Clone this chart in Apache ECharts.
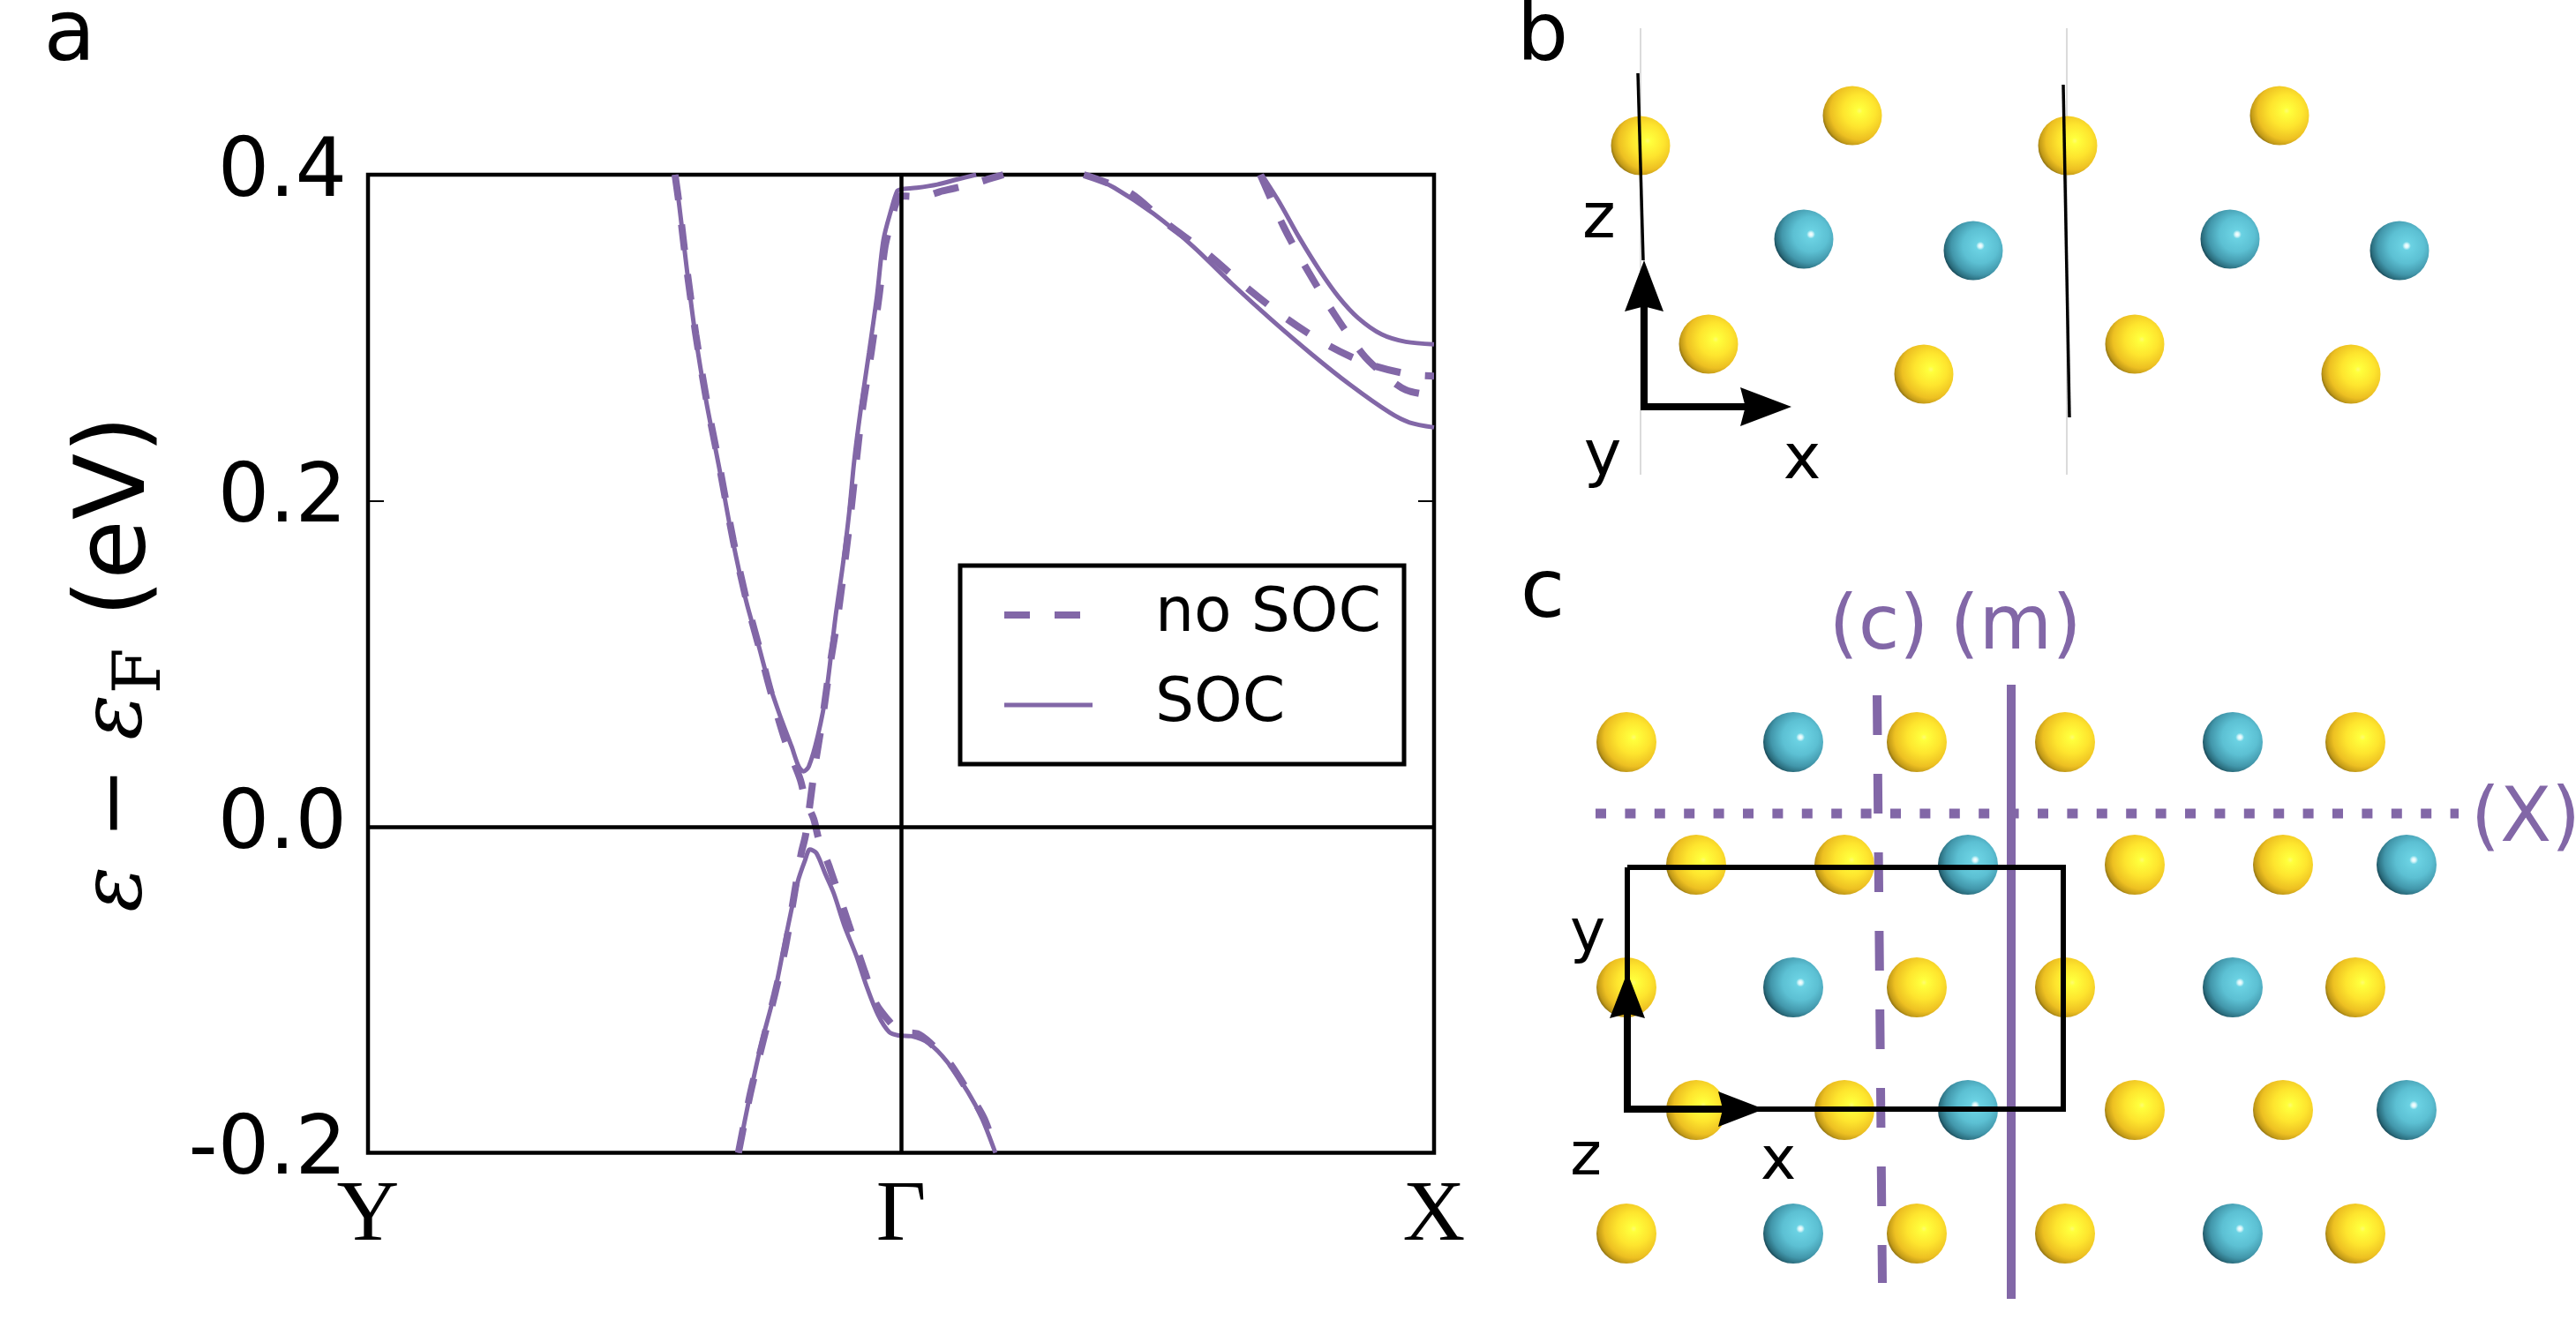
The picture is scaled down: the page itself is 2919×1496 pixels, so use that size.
<!DOCTYPE html>
<html>
<head>
<meta charset="utf-8">
<style>html,body{margin:0;padding:0;background:#fff}#c{width:2919px;height:1496px}</style>
<script src="https://cdn.jsdelivr.net/npm/echarts@6/dist/echarts.min.js"></script>
</head>
<body>
<div id="c"></div>
<script>
// ---- panel a: band data (k along Y-Gamma-X, energy in eV)
const xTickLabels = ['Y', 'Γ', 'X'];
const legendNames = ['no SOC', 'SOC'];

const socCondK = [.576,.584,.598,.614,.634,.659,.684,.709,.733,.750,.772,.795,.808,.817,.827,.844,.860,.877,.891,.903,.912,.924,.940,.955,.967,.982,.993,1.0,1.030,1.068,1.104,1.141];
const socCondE = [.400,.381,.3425,.302,.262,.220,.176,.139,.111,.0905,.069,.049,.037,.034,.037,.056,.083,.1285,.161,.1935,.224,.255,.291,.326,.360,.379,.390,.391,.392,.394,.397,.400];

const socValK = [.695,.717,.738,.762,.780,.788,.806,.820,.829,.841,.858,.874,.894,.916,.935,.957,.978,.995,1.020,1.053,1.086,1.126,1.152,1.177];
const socValE = [-.2,-.164,-.133,-.103,-.074,-.061,-.034,-.0205,-.014,-.016,-.029,-.041,-.061,-.079,-.0975,-.1155,-.126,-.128,-.1285,-.133,-.144,-.163,-.179,-.2];

const socLowK = [1.348,1.400,1.474,1.548,1.621,1.695,1.770,1.843,1.917,1.954,2.0];
const socLowE = [.400,.392,.376,.356,.333,.311,.290,.271,.254,.248,.245];

const socUpK = [1.677,1.710,1.747,1.785,1.821,1.858,1.902,1.947,2.0];
const socUpE = [.400,.383,.3615,.3415,.325,.312,.302,.2975,.296];

const noBandAK = [.576,.584,.598,.615,.635,.660,.685,.710,.733,.755,.783,.811,.821,.836,.846,.866,.902,.932,.954,.977,.990,1.0,1.031,1.056,1.089,1.127,1.156,1.179];
const noBandAE = [.400,.381,.3425,.302,.262,.220,.176,.139,.111,.0835,.0525,.029,.016,.005,-.008,-.025,-.060,-.089,-.109,-.119,-.1235,-.126,-.127,-.133,-.144,-.163,-.179,-.2];

const noBandBK = [.695,.717,.740,.763,.783,.800,.813,.821,.838,.853,.866,.881,.894,.906,.916,.927,.944,.959,.970,.982,.990,1.0,1.038,1.078,1.131,1.171,1.192];
const noBandBE = [-.2,-.164,-.133,-.103,-.074,-.041,-.016,-.005,.036,.067,.0975,.1285,.161,.1935,.224,.255,.291,.326,.356,.372,.382,.387,.3865,.390,.394,.398,.400];

const noLowK = [1.343,1.429,1.495,1.573,1.644,1.722,1.803,1.876,1.954,2.0];
const noLowE = [.400,.389,.371,.352,.332,.312,.295,.284,.2775,.2765];

const noUpK = [1.674,1.718,1.765,1.814,1.866,1.902,1.947,2.0];
const noUpE = [.400,.368,.340,.314,.290,.2785,.268,.2645];

// ---- panel b: atoms, in panel units
const bGold = [[159,165],[399,131],[643,165],[883,131],[236,390],[480,424],[719,390],[964,424]];
const bTeal = [[344,271],[536,284],[827,271],[1019,284]];
const bCellA = [[156,83],[162,295]];
const bCellB = [[638,96],[645,473]];
const bGuideA = [[159,32],[159,538]];
const bGuideB = [[642,32],[642,538]];
const bAxisZ = [[163,465],[163,345]];
const bAxisX = [[159,461],[282,461]];
const bHeads = [[163,324,0],[301,461,-90]];

// ---- panel c: atoms, in panel units
const cRowY = [221,360,499,638,778];
const cOddX = [143,332,472,640,830,969];
const cEvenX = [222,390,530,719,887,1027];
const cOddKinds = ['g','t','g','g','t','g'];
const cEvenKinds = ['g','g','t','g','g','t'];
const cCell = [[144,363],[638,363],[638,637],[144,637],[144,363]];
const cAxisY = [[144,641],[144,528]];
const cAxisX = [[140,637],[254,637]];
const cHeads = [[144,508,0],[273,637,-90]];
const cLineM = [[579,156],[579,852]];
const cLineC = [[427,168],[433,834]];
const cLineX = [[108,302],[1086,302]];

const purple = '#8267a7';
const arrowHead = 'path://M50 0L100 100L50 90L0 100Z';
const pairs = (k, e) => k.map((v, i) => [v, e[i]]);

const goldFill = {type:'radial',x:.62,y:.42,r:.66,colorStops:[
  {offset:0,color:'#fffb70'},{offset:.08,color:'#ffff3c'},{offset:.42,color:'#fee52e'},
  {offset:.74,color:'#edc022'},{offset:.9,color:'#c29a18'},{offset:1,color:'#7c6410'}]};
const tealFill = {type:'radial',x:.62,y:.42,r:.66,colorStops:[
  {offset:0,color:'#ffffff'},{offset:.05,color:'#d8f6fa'},{offset:.11,color:'#6bd2e3'},
  {offset:.45,color:'#5cc0d3'},{offset:.74,color:'#4297ab'},{offset:.9,color:'#2a6c7c'},{offset:1,color:'#123a48'}]};

function band(name, k, e, dashed, extra) {
  return Object.assign({
    name, type:'line', xAxisIndex:0, yAxisIndex:0, showSymbol:false, symbol:'none', smooth:.3, silent:true, z:3,
    lineStyle: dashed ? {color:purple,width:8,type:[29,28],cap:'butt'} : {color:purple,width:5},
    itemStyle:{color:purple},
    data:pairs(k,e)
  }, extra||{});
}
function decor(xi, yi, data, color, width, type, z) {
  return {type:'line', xAxisIndex:xi, yAxisIndex:yi, symbol:'none', showSymbol:false, silent:true, clip:false, z:z||6,
    lineStyle:{color,width,type:type||'solid',cap:'butt',join:'miter'}, data};
}
function atoms(xi, yi, data, fill, size) {
  return {type:'scatter', xAxisIndex:xi, yAxisIndex:yi, symbol:'circle', symbolSize:size, silent:true, z:4,
    itemStyle:{color:fill, opacity:1}, data};
}
function heads(xi, yi, data, w, h) {
  return {type:'scatter', xAxisIndex:xi, yAxisIndex:yi, silent:true, z:8, symbol:arrowHead, symbolSize:[w,h],
    symbolRotate:(v)=>v[2], itemStyle:{color:'#000',opacity:1}, data};
}

const cGold = [], cTeal = [];
cRowY.forEach((y, r) => {
  const xs = r % 2 ? cEvenX : cOddX, kinds = r % 2 ? cEvenKinds : cOddKinds;
  xs.forEach((x, i) => (kinds[i] === 'g' ? cGold : cTeal).push([x, y]));
});

const label = (text, x, y, size, fill) => ({type:'text', z:20, silent:true,
  style:{text, x, y, fontSize:size, fontFamily:'"DejaVu Sans"', fill:fill||'#000', align:'center', verticalAlign:'middle'}});

const hiddenX = (g, w) => ({type:'value', gridIndex:g, min:0, max:w, show:false});
const hiddenY = (g, h) => ({type:'value', gridIndex:g, min:0, max:h, inverse:true, show:false});

const chart = echarts.init(document.getElementById('c'), null, {renderer:'canvas'});
chart.setOption({
  animation:false,
  backgroundColor:'#fff',
  grid:[
    {left:417, top:198, width:1208, height:1108.5, show:true, borderColor:'#000', borderWidth:4.5, backgroundColor:'transparent'},
    {left:1700, top:0, width:1219, height:600},
    {left:1700, top:620, width:1219, height:876}
  ],
  xAxis:[
    {type:'value', gridIndex:0, min:0, max:2, interval:1,
      axisLine:{show:false}, axisTick:{show:false}, splitLine:{show:false},
      axisLabel:{margin:24, fontSize:98, fontFamily:'"Liberation Serif"', color:'#000', hideOverlap:false, showMinLabel:true, showMaxLabel:true,
        formatter:(v)=>xTickLabels[Math.round(v)]}},
    hiddenX(1,1219), hiddenX(2,1219)
  ],
  yAxis:[
    {type:'value', gridIndex:0, min:-0.2, max:0.4, interval:0.2,
      name:'{e|ε − ε}{f|F}{p| (eV)}', nameLocation:'middle', nameGap:218, nameRotate:90,
      nameTextStyle:{rich:{
        e:{fontSize:97, fontFamily:'"DejaVu Serif"', fontStyle:'italic', color:'#000', lineHeight:130},
        f:{fontSize:75, fontFamily:'"DejaVu Serif"', color:'#000', lineHeight:130, verticalAlign:'bottom'},
        p:{fontSize:110, fontFamily:'"DejaVu Sans"', color:'#000', lineHeight:130}}},
      axisLine:{show:false}, splitLine:{show:false},
      axisTick:{show:true, inside:true, length:18, lineStyle:{color:'#000',width:2}},
      axisLabel:{margin:24, fontSize:92, fontFamily:'"DejaVu Sans"', color:'#000', showMinLabel:true, showMaxLabel:true,
        formatter:(v)=>v.toFixed(1)}},
    {type:'value', gridIndex:0, position:'right', min:-0.2, max:0.4, interval:0.2,
      axisLine:{show:false}, splitLine:{show:false}, axisLabel:{show:false},
      axisTick:{show:true, inside:true, length:18, lineStyle:{color:'#000',width:2}}},
    hiddenY(1,600), hiddenY(2,876)
  ],
  legend:{
    data:[
      {name:legendNames[0], lineStyle:{width:8,type:[29,28],cap:'butt',color:purple}, itemStyle:{color:'transparent',borderWidth:0,opacity:0}},
      {name:legendNames[1], lineStyle:{width:5,color:purple}, itemStyle:{color:'transparent',borderWidth:0,opacity:0}}
    ],
    orient:'vertical', left:1088, top:641, z:10,
    itemWidth:100, itemHeight:30, itemGap:0, padding:[5,26,16,46],
    backgroundColor:'#fff', borderColor:'#000', borderWidth:5, borderRadius:0,
    selectedMode:false,
    textStyle:{fontSize:69.5, fontFamily:'"DejaVu Sans"', color:'#000', lineHeight:80, padding:[22,0,0,66]}
  },
  series:[
    band('no SOC', noBandAK, noBandAE, true, {markLine:{silent:true, symbol:'none', animation:false, z:7, label:{show:false},
      lineStyle:{color:'#000',width:4.5,type:'solid'}, data:[{xAxis:1},{yAxis:0}]}}),
    band('no SOC', noBandBK, noBandBE, true),
    band('no SOC', noLowK, noLowE, true),
    band('no SOC', noUpK, noUpE, true),
    band('SOC', socCondK, socCondE, false),
    band('SOC', socValK, socValE, false),
    band('SOC', socLowK, socLowE, false),
    band('SOC', socUpK, socUpE, false),

    decor(1,2,bGuideA,'#cfcfcf',1.5,null,2),
    decor(1,2,bGuideB,'#cfcfcf',1.5,null,2),
    atoms(1,2,bGold,goldFill,67),
    atoms(1,2,bTeal,tealFill,67),
    decor(1,2,bCellA,'#000',3.5),
    decor(1,2,bCellB,'#000',3.5),
    decor(1,2,bAxisZ,'#000',8),
    decor(1,2,bAxisX,'#000',8),
    heads(1,2,bHeads,44,58),

    atoms(2,3,cGold,goldFill,68),
    atoms(2,3,cTeal,tealFill,68),
    decor(2,3,cLineX,purple,11,[12,21.4]),
    decor(2,3,cLineC,purple,10,[45,44]),
    decor(2,3,cLineM,purple,10),
    decor(2,3,cCell,'#000',6),
    decor(2,3,cAxisY,'#000',8),
    decor(2,3,cAxisX,'#000',8),
    heads(2,3,cHeads,40,52)
  ],
  graphic:[
    label('a',79,43,96), label('b',1748,44,92), label('c',1748,675,92),
    label('z',1812,250,72), label('y',1816,519,72), label('x',2042,523,72),
    label('z',1797,1313,68), label('y',1799,1060,68), label('x',2015,1318,68),
    label('(c)',2129,713,85,purple), label('(m)',2284,713,85,purple), label('(X)',2862,931,85,purple)
  ]
});
</script>
</body>
</html>
